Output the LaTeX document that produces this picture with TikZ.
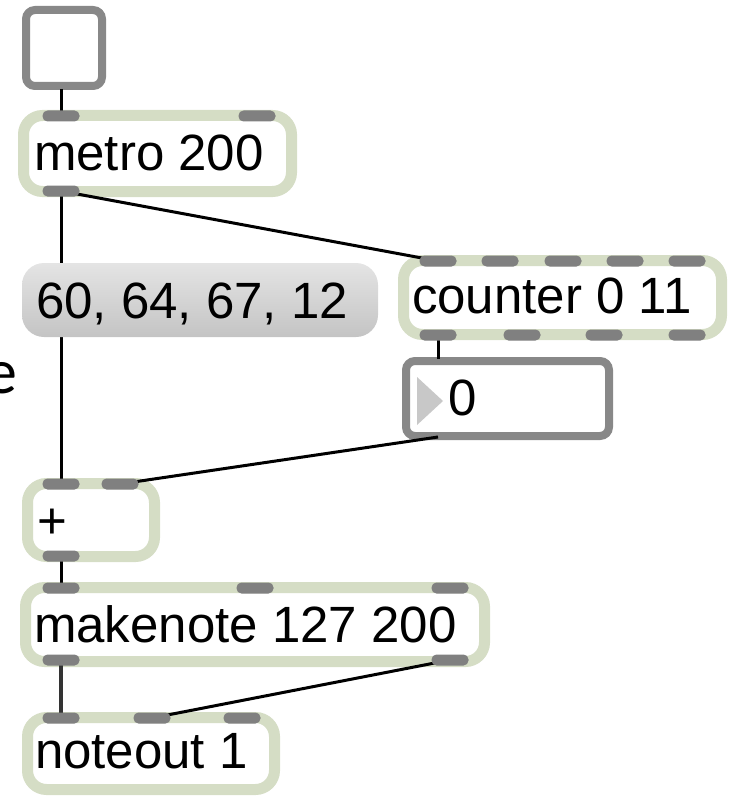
\documentclass[tikz,border=0pt]{standalone}
\usepackage{fontspec}
\setmainfont{Liberation Sans}
\newfontfamily\calfont{Carlito}
\definecolor{maxgreen}{RGB}{213,221,197}
\definecolor{portgray}{RGB}{128,128,128}
\definecolor{uigray}{RGB}{136,136,136}
\definecolor{trigray}{RGB}{200,200,200}
\definecolor{msgtop}{RGB}{228,228,228}
\definecolor{msgbot}{RGB}{196,196,196}
\begin{document}
\begin{tikzpicture}[x=1pt,y=-1pt,
  objbox/.style={draw=maxgreen, line width=11pt, rounded corners=19pt, fill=white, inner sep=0pt, outer sep=0pt},
  uibox/.style={draw=uigray, line width=8pt, rounded corners=9pt, fill=white, inner sep=0pt, outer sep=0pt},
  port/.style={fill=portgray, rounded corners=5pt, minimum width=37pt, minimum height=11pt, inner sep=0pt, outer sep=0pt},
  maxtext/.style={anchor=base west, inner sep=0pt, outer sep=0pt, font=\fontsize{51}{60}\selectfont},
  wire/.style={line width=3pt, black},
  thickwire/.style={line width=3.6pt, black!80}
]
\useasboundingbox (0,0) rectangle (735,797);

% ---- boxes ----
\node[uibox, minimum width=76pt, minimum height=76pt] (tog) at (64,48) {};
\node[objbox, minimum width=268pt, minimum height=76pt] (metro) at (157.5,153.5) {};
\node[objbox, minimum width=318pt, minimum height=74pt] (counter) at (562.5,297.5) {};
\node[uibox, minimum width=203pt, minimum height=75pt] (num) at (507.5,398.5) {};
\node[objbox, minimum width=127pt, minimum height=73pt] (plus) at (91,520) {};
\node[objbox, minimum width=459pt, minimum height=74pt] (make) at (255,624.5) {};
\node[objbox, minimum width=247pt, minimum height=72pt] (note) at (151,753.5) {};

% ---- texts ----
\node[maxtext] (metroT) at (34,170) {metro 200};
\node[maxtext] (counterT) at (412,313) {counter 0 11};
\node[maxtext] (numT) at (448,415) {0};
\node[maxtext] (plusT) at (37,538) {+};
\node[maxtext] (makeT) at (34,642) {makenote 127 200};
\node[maxtext] (noteT) at (35,768) {noteout 1};
\node[anchor=base west, inner sep=0pt, font=\calfont\fontsize{64}{70}\selectfont] (stray) at (-14.5,393) {e};

% triangle of number box
\fill[trigray] (417,377) -- (443,401) -- (417,425) -- cycle;

% ---- port coordinates ----
\coordinate (numIn) at (438,359);
\coordinate (numOut) at (438,437);

% ---- wires ----
\draw[wire] (tog.south) ++(0,-1) coordinate (togOut);
\coordinate (metroI1) at (61,116);
\coordinate (metroI2) at (257,116);
\coordinate (metroO1) at (61,191);
\coordinate (counterI1) at (438,261);
\coordinate (counterI2) at (500,261);
\coordinate (counterI3) at (563,261);
\coordinate (counterI4) at (625,261);
\coordinate (counterI5) at (687,261);
\coordinate (counterO1) at (438,335);
\coordinate (counterO2) at (522,335);
\coordinate (counterO3) at (604,335);
\coordinate (counterO4) at (687,335);
\coordinate (plusI1) at (61,484);
\coordinate (plusI2) at (120,484);
\coordinate (plusO1) at (61,556);
\coordinate (makeI1) at (61,588);
\coordinate (makeI2) at (255,588);
\coordinate (makeI3) at (450,588);
\coordinate (makeO1) at (61,660);
\coordinate (makeO2) at (450,660);
\coordinate (noteI1) at (61,718);
\coordinate (noteI2) at (152,718);
\coordinate (noteI3) at (242,718);
\coordinate (togBot) at (61,89);

\draw[wire] (togBot) -- (metroI1);
\draw[wire] (metroO1) -- (plusI1);
\draw[wire] (metroO1) -- (counterI1);
\draw[wire] (counterO1) -- (numIn);
\draw[wire] (numOut) -- (plusI2);
\draw[wire] (plusO1) -- (makeI1);
\draw[thickwire] (makeO1) -- (noteI1);
\draw[wire] (makeO2) -- (noteI2);

% ---- port bars ----
\foreach \p in {metroI1,metroI2,metroO1,counterI1,counterI2,counterI3,counterI4,counterI5,counterO1,counterO2,counterO3,counterO4,plusI1,plusI2,plusO1,makeI1,makeI2,makeI3,makeO1,makeO2,noteI1,noteI2,noteI3}
  \node[port] (bar-\p) at (\p) {};

% ---- message box (drawn over the wire) ----
\node[rounded corners=22pt, top color=msgtop, bottom color=msgbot, minimum width=356pt, minimum height=74pt, inner sep=0pt, outer sep=0pt] (msg) at (200,300) {};
\node[maxtext] (msgT) at (36,318) {60, 64, 67, 12};
\end{tikzpicture}
\end{document}
